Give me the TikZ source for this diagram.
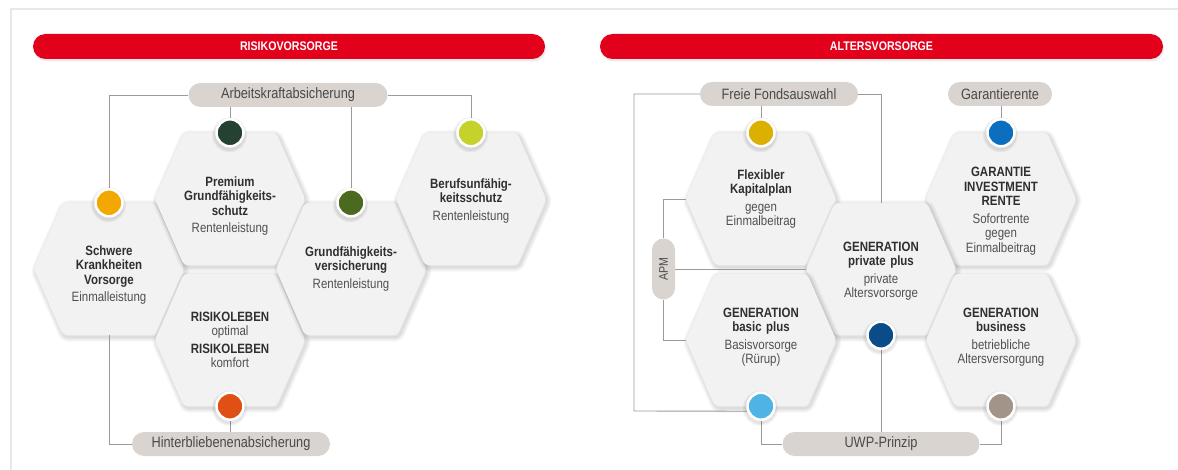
\documentclass[tikz,border=0pt]{standalone}
\usepackage{fontspec}
\setmainfont{Liberation Sans}[FakeStretch=0.85]
\usepackage{xcolor}
\usetikzlibrary{calc}

\definecolor{vred}{HTML}{E3001B}
\definecolor{pillgray}{HTML}{D9D4CF}
\definecolor{pilltext}{HTML}{4A4A4A}
\definecolor{hexfill}{HTML}{F2F2F2}
\definecolor{hexbold}{HTML}{2F2F2F}
\definecolor{hextext}{HTML}{505050}
\definecolor{linegray}{HTML}{9A9A9A}
\definecolor{cschwere}{HTML}{F2A800}
\definecolor{cpremium}{HTML}{25412F}
\definecolor{cgrund}{HTML}{4B6A1F}
\definecolor{cberufs}{HTML}{C4D22B}
\definecolor{crisiko}{HTML}{E04F14}
\definecolor{cflex}{HTML}{DCB000}
\definecolor{cgarantie}{HTML}{0B6EBE}
\definecolor{cprivat}{HTML}{0A4C88}
\definecolor{cbasic}{HTML}{4FB3E6}
\definecolor{cbusiness}{HTML}{A29489}

\pgfdeclarelayer{background}
\pgfdeclarelayer{lines}
\pgfsetlayers{background,lines,main}

\newcommand{\bt}[1]{{\bfseries\color{hexbold}#1}}

\begin{document}
\begin{tikzpicture}[
x=1pt, y=-1pt,
hexbox/.style={
  minimum width=150pt,
  minimum height=132pt,
  inner sep=0pt
},
hexlabel/.style={
  text width=140pt,
  inner sep=0pt,
  align=center,
  text=hextext,
  font=\fontsize{13.5}{14.5}\selectfont
},
hexcell/.style={
  fill=hexfill,
  rounded corners=4pt
},
hexshade/.style={
  draw=black,
  opacity=0.035,
  line width=#1,
  line join=round,
  rounded corners=4pt,
  transform canvas={xshift=1.5pt, yshift=-2pt}
},
dot/.style={
  circle,
  fill=#1,
  draw=white,
  line width=2.5pt,
  minimum size=27pt,
  inner sep=0pt,
  preaction={draw=black, opacity=0.05, line width=8pt, transform canvas={xshift=-0.5pt, yshift=-2pt}},
  preaction={draw=black, opacity=0.06, line width=5pt, transform canvas={xshift=-0.5pt, yshift=-2pt}}
},
pill/.style={
  fill=pillgray,
  rounded corners=12pt,
  minimum height=24pt,
  inner sep=0pt,
  text=pilltext,
  font=\fontsize{15}{17}\selectfont
},
redbar/.style={
  fill=vred,
  rounded corners=12.5pt,
  minimum height=25pt,
  text=white,
  font=\bfseries\fontsize{12.5}{14}\selectfont,
  preaction={fill=black, opacity=0.08, transform canvas={xshift=1pt, yshift=-2.5pt}}
},
link/.style={
  draw=linegray,
  line width=0.9pt
}
]
\useasboundingbox (0,0) rectangle (1178,470);
\draw[gray!18, line width=1.2pt] (11,470) -- (11,9) -- (1178,9);

\node[redbar, minimum width=512pt] (titelrisiko) at (289,46.5)
  {RISIKOVORSORGE};
\node[redbar, minimum width=563pt] (titelalter) at (881.5,46.5)
  {ALTERSVORSORGE};

\node[hexbox] (schwere) at (109,269) {};
\node[hexbox] (premium) at (230,199) {};
\node[hexbox] (risiko) at (230,340) {};
\node[hexbox] (grund) at (351,269) {};
\node[hexbox] (berufs) at (471,199) {};
\node[hexbox] (flex) at (761,199) {};
\node[hexbox] (garantie) at (1001,199) {};
\node[hexbox] (privat) at (881,269) {};
\node[hexbox] (basic) at (761,340) {};
\node[hexbox] (business) at (1001,340) {};

\node[hexlabel] (schwere-t) at ([yshift=-6pt]schwere)
  {\bt{Schwere\\Krankheiten\\Vorsorge}\\[3pt]Einmalleistung};
\node[hexlabel] (premium-t) at ([yshift=-7pt]premium)
  {\bt{Premium\\Grundfähigkeits-\\schutz}\\[3pt]Rentenleistung};
\node[hexlabel] (risiko-t) at (risiko)
  {\bt{RISIKOLEBEN}\\optimal\\[3pt]\bt{RISIKOLEBEN}\\komfort};
\node[hexlabel] (grund-t) at (grund)
  {\bt{Grundfähigkeits-\\versicherung}\\[3pt]Rentenleistung};
\node[hexlabel] (berufs-t) at ([yshift=-2pt]berufs)
  {\bt{Berufsunfähig-\\keitsschutz}\\[3pt]Rentenleistung};

\node[hexlabel] (flex-t) at (flex)
  {\bt{Flexibler\\Kapitalplan}\\[3pt]gegen\\Einmalbeitrag};
\node[hexlabel] (garantie-t) at ([yshift=-12pt]garantie)
  {\bt{GARANTIE\\INVESTMENT\\RENTE}\\[3pt]Sofortrente\\gegen\\Einmalbeitrag};
\node[hexlabel] (privat-t) at ([yshift=-2pt]privat)
  {\bt{GENERATION\\private plus}\\[3pt]private\\Altersvorsorge};
\node[hexlabel] (basic-t) at ([yshift=3pt]basic)
  {\bt{GENERATION\\basic plus}\\[3pt]Basisvorsorge\\(Rürup)};
\node[hexlabel] (business-t) at ([yshift=3pt]business)
  {\bt{GENERATION\\business}\\[3pt]betriebliche\\Altersversorgung};

\begin{pgfonlayer}{background}
\foreach \h in {schwere,premium,risiko,grund,berufs,flex,garantie,privat,basic,business} {
  \foreach \w in {9pt,6.5pt,4pt,2pt}
    \path[hexshade=\w] (\h.west) -- ([xshift=29pt]\h.north west) -- ([xshift=-29pt]\h.north east)
      -- (\h.east) -- ([xshift=-29pt]\h.south east) -- ([xshift=29pt]\h.south west) -- cycle;
  \fill[hexcell] (\h.west) -- ([xshift=29pt]\h.north west) -- ([xshift=-29pt]\h.north east)
    -- (\h.east) -- ([xshift=-29pt]\h.south east) -- ([xshift=29pt]\h.south west) -- cycle;
}
\end{pgfonlayer}

\node[dot=cschwere] (sdot) at (schwere.north) {};
\node[dot=cpremium] (pdot) at (premium.north) {};
\node[dot=crisiko] (rdot) at (risiko.south) {};
\node[dot=cgrund] (gdot) at (grund.north) {};
\node[dot=cberufs] (budot) at (berufs.north) {};
\node[dot=cflex] (fdot) at (flex.north) {};
\node[dot=cgarantie] (gidot) at (garantie.north) {};
\node[dot=cprivat] (ppdot) at (privat.south) {};
\node[dot=cbasic] (bpdot) at (basic.south) {};
\node[dot=cbusiness] (bsdot) at (business.south) {};

\node[pill, minimum width=199pt] (arbeit) at (288,95)
  {Arbeitskraftabsicherung};
\node[pill, minimum width=198pt] (hinter) at (231,444)
  {Hinterbliebenenabsicherung};
\node[pill, minimum width=158pt] (freie) at (779,94)
  {Freie Fondsauswahl};
\node[pill, minimum width=104pt] (garant) at (1000,94)
  {Garantierente};
\node[pill, minimum width=197pt] (uwp) at (881,444)
  {UWP-Prinzip};
\node[pill, minimum width=23pt, minimum height=61pt, rounded corners=11.5pt,
  font=\fontsize{12.5}{14}\selectfont] (apm) at (663.5,269)
  {\rotatebox{90}{APM}};

\coordinate (rahmen) at (634,411);

\begin{pgfonlayer}{lines}
\draw[link] (arbeit) -| (sdot);
\draw[link] (arbeit -| pdot) -- (pdot);
\draw[link] (arbeit -| gdot) -- (gdot);
\draw[link] (arbeit) -| (budot);
\draw[link] (schwere) |- (hinter);
\draw[link] (rdot) -- (rdot |- hinter);

\draw[link] (freie) -| (rahmen) -- (bpdot.200);
\draw[link] (fdot |- freie) -- (fdot);
\draw[link] (freie) -| (privat);
\draw[link] (gidot |- garant) -- (gidot);
\draw[link] (apm) |- (flex);
\draw[link] (apm) -- (privat);
\draw[link] (apm) |- (basic);
\draw[link] (ppdot) -- (ppdot |- uwp);
\draw[link] (bpdot) |- (uwp);
\draw[link] (uwp) -| (bsdot);
\end{pgfonlayer}
\end{tikzpicture}
\end{document}
